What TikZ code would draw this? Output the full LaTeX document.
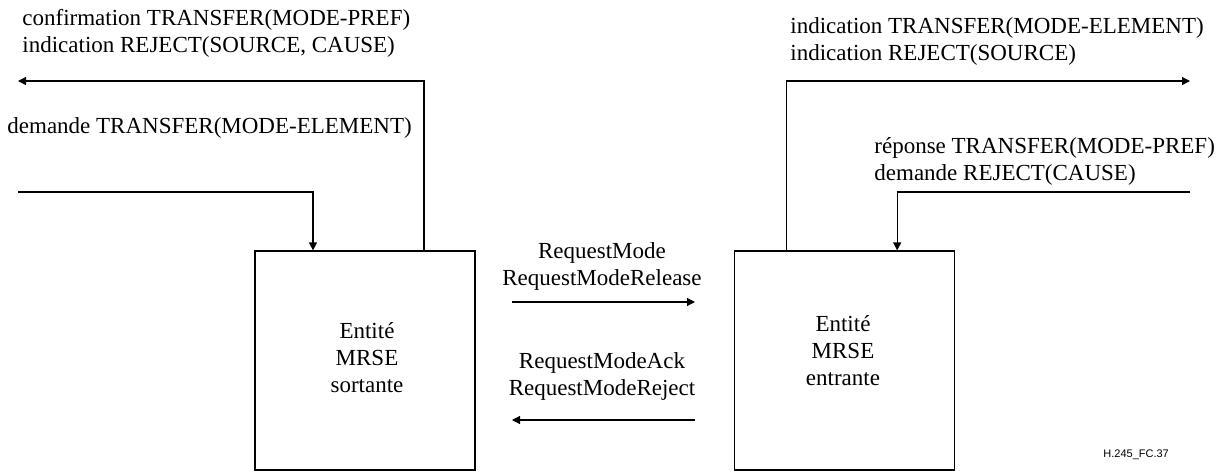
\documentclass[tikz,border=0pt]{standalone}
\usepackage{fontspec}
\setmainfont{Liberation Serif}
\newfontfamily\refsans{Liberation Sans}
\usetikzlibrary{arrows.meta, positioning, calc}

\begin{document}
\begin{tikzpicture}[
    x=0.5pt, y=-0.5pt,
    node distance=129pt,
    entity/.style={rectangle, draw, line width=0.6pt, minimum width=110pt, minimum height=109.5pt, inner sep=0pt},
    prim/.style={font=\fontsize{11.5}{13.3}\selectfont, align=left, inner sep=0pt},
    msg/.style={font=\fontsize{11.5}{13.3}\selectfont, align=center, inner sep=0pt},
    arrow/.style={-{Triangle[length=4pt, width=4pt]}, line width=0.6pt}
]
\useasboundingbox (0,0) rectangle (1223,472);

% === Entities ===
\node[entity] (lbox) at (365,360.5) {};
\node[entity, right=of lbox] (rbox) {};
\node[msg, anchor=base] (ltxt) at (367,392) {Entité\\MRSE\\sortante};
\node[msg, anchor=base] (rtxt) at (843,385) {Entité\\MRSE\\entrante};

% === Service primitives ===
\node[prim, anchor=base west] (lconf) at (22,52) {confirmation TRANSFER(MODE-PREF)\\indication REJECT(SOURCE, CAUSE)};
\node[prim, anchor=base west] (ldem) at (7,133) {demande TRANSFER(MODE-ELEMENT)};
\node[prim, anchor=base west] (rind) at (790,60) {indication TRANSFER(MODE-ELEMENT)\\indication REJECT(SOURCE)};
\node[prim, anchor=base west] (rrep) at (874,180) {réponse TRANSFER(MODE-PREF)\\demande REJECT(CAUSE)};

% === Messages ===
\node[msg, anchor=base] (mreq) at (602,285) {RequestMode\\RequestModeRelease};
\node[msg, anchor=base] (mack) at (602,395) {RequestModeAck\\RequestModeReject};

% === Free ends ===
\coordinate (lout) at (18,81);
\coordinate (lin) at (18,192);
\coordinate (rout) at (1190,81);
\coordinate (rin) at (1190,192);
\coordinate (mreqs) at (512,302);
\coordinate (mreqe) at (695,302);
\coordinate (macks) at (695,420);
\coordinate (macke) at (512,420);

% === Arrows ===
\draw[arrow] ($(lbox.north)+(59,0)$) |- (lout);
\draw[arrow] (lin) -| ($(lbox.north)+(-52,0)$);
\draw[arrow] ($(rbox.north)+(-58,0)$) |- (rout);
\draw[arrow] (rin) -| ($(rbox.north)+(53,0)$);
\draw[arrow] (mreqs) -- (mreqe);
\draw[arrow] (macks) -- (macke);

% === Figure id ===
\node[anchor=base west, font=\refsans\fontsize{5.5}{6}\selectfont, inner sep=0pt] (figid) at (1103,457) {H.245\_FC.37};

\end{tikzpicture}
\end{document}
